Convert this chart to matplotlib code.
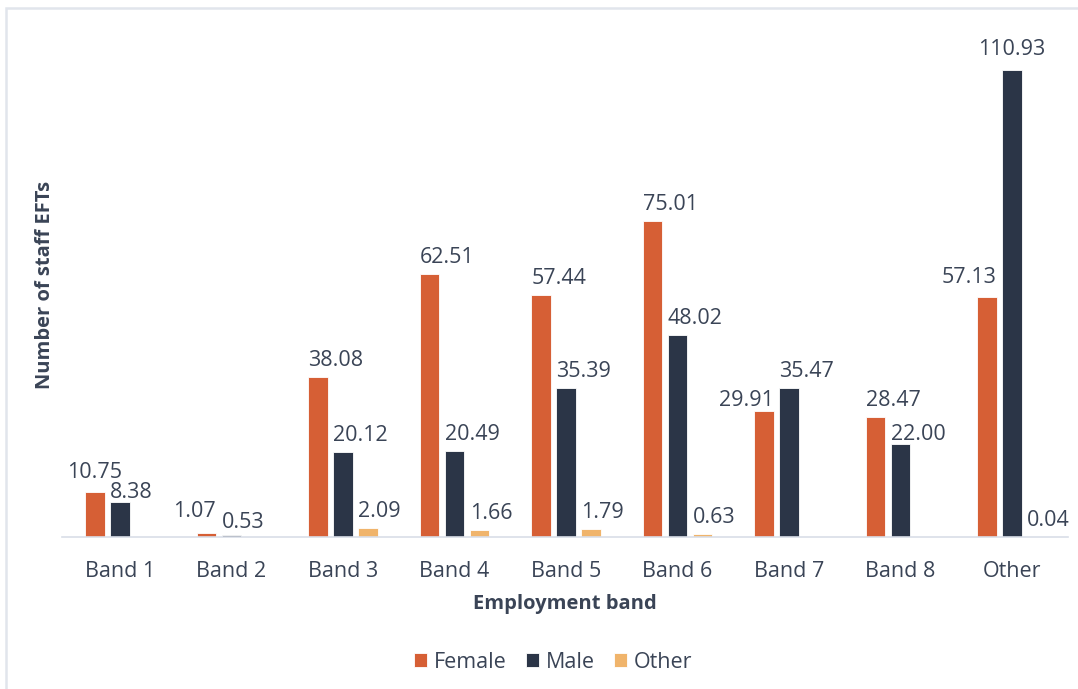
import numpy as np
import matplotlib.pyplot as plt
from matplotlib.patches import Rectangle

# data
bands = ['Band 1', 'Band 2', 'Band 3', 'Band 4', 'Band 5', 'Band 6', 'Band 7', 'Band 8', 'Other']
female = [10.75, 1.07, 38.08, 62.51, 57.44, 75.01, 29.91, 28.47, 57.13]
male = [8.38, 0.53, 20.12, 20.49, 35.39, 48.02, 35.47, 22.00, 110.93]
other = [None, None, 2.09, 1.66, 1.79, 0.63, None, None, 0.04]

colors = {'Female': '#d65f35', 'Male': '#2b3547', 'Other': '#f0b46b'}
text_color = '#3a4456'

plt.rcParams['font.family'] = ['Open Sans', 'DejaVu Sans']

fig = plt.figure(figsize=(10.78, 6.89), dpi=100)
ax = fig.add_axes([62 / 1078, 0.2206, 0.933, 0.733])

# light frame (only top and left edges visible in the original)
fig.patches.append(Rectangle((6 / 1078, -0.1), 1.2, 681 / 689 + 0.1,
                             transform=fig.transFigure, fill=False,
                             edgecolor='#e1e5ec', linewidth=1.8))

x = np.arange(len(bands))
width = 0.175
step = 0.224

# label alignment tweaks: (series, index) -> (ha, dy in points)
tweaks = {
    ('Female', 0): ('center', 10),
    ('Female', 1): ('right', 11),
    ('Female', 6): ('right', 4),
    ('Female', 8): ('right', 10),
    ('Male', 0): ('left', 3),
    ('Male', 1): ('left', 5),
    ('Male', 7): ('left', 3),
    ('Male', 8): ('center', 11),
}

series = [('Female', female, -step), ('Male', male, 0), ('Other', other, step)]
for name, vals, off in series:
    idx = [i for i, v in enumerate(vals) if v is not None]
    heights = [vals[i] for i in idx]
    ax.bar(x[idx] + off, heights, width, color=colors[name], label=name,
           edgecolor='white', linewidth=0.6)
    for i in idx:
        v = vals[i]
        ha, dy = tweaks.get((name, i), ('left', 8))
        xpos = x[i] + off + {'left': -width / 2, 'center': 0, 'right': width / 2}[ha]
        ax.annotate('%.2f' % v, (xpos, v), xytext=(0, dy), textcoords='offset points',
                    ha=ha, va='baseline', fontsize=15.5, color=text_color)

ax.set_xlim(-0.52, 8.5)
ax.set_ylim(0, 120)
ax.set_xticks(x)
ax.set_xticklabels(bands, fontsize=15.5, color=text_color)
ax.tick_params(axis='x', length=0, pad=17)
ax.set_yticks([])
for s in ['top', 'right', 'left']:
    ax.spines[s].set_visible(False)
ax.spines['bottom'].set_color('#d9dee7')
ax.spines['bottom'].set_linewidth(1.2)

ax.set_xlabel('Employment band', fontsize=14.5, fontweight='bold', color=text_color, labelpad=9)
fig.text(45 / 1078, 1 - 285 / 689, 'Number of staff EFTs', rotation=90, ha='center', va='center',
         fontsize=14.5, fontweight='bold', color=text_color)

fig.legend(loc='center', bbox_to_anchor=(553 / 1078, 1 - 662 / 689), ncol=3, frameon=False,
           fontsize=15.5, handlelength=0.62, handleheight=0.62, handletextpad=0.3,
           columnspacing=0.9, labelcolor=text_color)

fig.savefig('out.png', dpi=100, facecolor='white')
